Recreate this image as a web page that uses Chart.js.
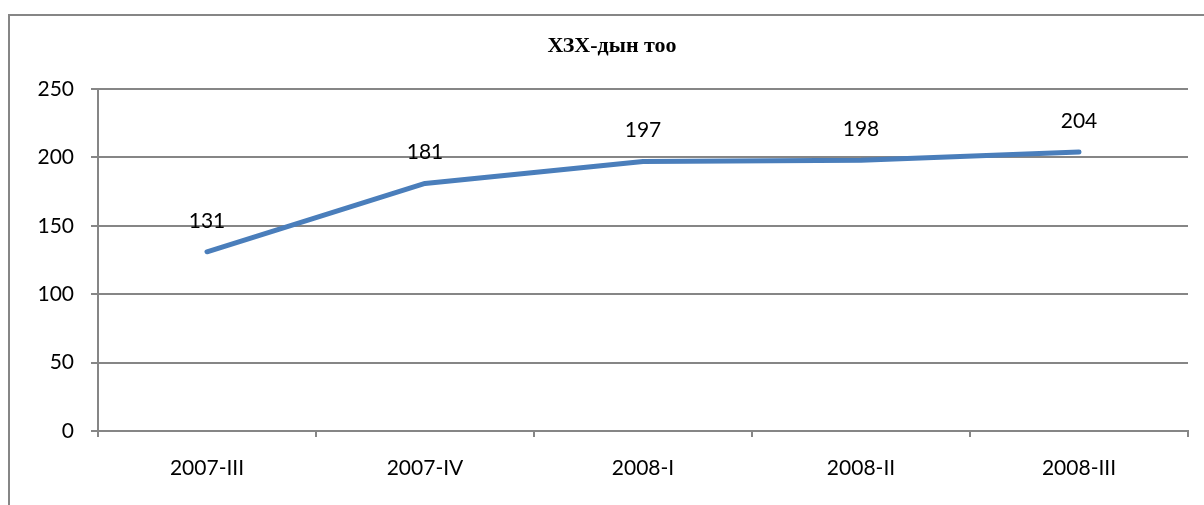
<!DOCTYPE html>
<html lang="mn">
<head>
    <meta charset="UTF-8">
    <title>ХЗХ-дын тоо</title>
    <script src="https://cdn.jsdelivr.net/npm/chart.js"></script>
    <style>
        body {
            margin: 0;
            padding: 0;
            background: #fff;
        }
        .chart-wrap {
            position: relative;
            width: 1204px;
            height: 505px;
        }
    </style>
</head>
<body>
    <div class="chart-wrap">
        <canvas id="hzhChart"></canvas>
    </div>
    <script>
        // Data
        const quarters = ['2007-III', '2007-IV', '2008-I', '2008-II', '2008-III'];
        const counts = [131, 181, 197, 198, 204];
        const chartTitle = 'ХЗХ-дын тоо';

        const gridGray = '#868686';
        const labelFont = { family: 'Lato, "Open Sans", sans-serif', size: 21 };

        // Outer frame of the chart box (cut off on the right and bottom) plus the title
        const framePlugin = {
            id: 'frame',
            beforeDraw(chart) {
                const ctx = chart.ctx;
                ctx.save();
                ctx.strokeStyle = gridGray;
                ctx.lineWidth = 2;
                ctx.beginPath();
                ctx.moveTo(9, chart.height + 2);
                ctx.lineTo(9, 15);
                ctx.lineTo(chart.width + 2, 15);
                ctx.stroke();

                ctx.fillStyle = '#000';
                ctx.font = 'bold 22px "Liberation Serif", "Times New Roman", serif';
                ctx.textAlign = 'center';
                ctx.textBaseline = 'middle';
                ctx.fillText(chartTitle, 612, 46);
                ctx.restore();
            }
        };

        // Value labels above each point
        const valueLabels = {
            id: 'valueLabels',
            afterDatasetsDraw(chart) {
                const ctx = chart.ctx;
                const meta = chart.getDatasetMeta(0);
                ctx.save();
                ctx.fillStyle = '#000';
                ctx.font = labelFont.size + 'px ' + labelFont.family;
                ctx.textAlign = 'center';
                ctx.textBaseline = 'middle';
                meta.data.forEach((pt, i) => {
                    ctx.fillText(String(counts[i]), pt.x, pt.y - 31);
                });
                ctx.restore();
            }
        };

        new Chart(document.getElementById('hzhChart'), {
            type: 'line',
            data: {
                labels: quarters,
                datasets: [{
                    label: chartTitle,
                    data: counts,
                    borderColor: '#4a7ebb',
                    borderWidth: 5,
                    borderCapStyle: 'round',
                    borderJoinStyle: 'round',
                    tension: 0,
                    fill: false,
                    pointRadius: 0,
                    pointHoverRadius: 0
                }]
            },
            options: {
                responsive: true,
                maintainAspectRatio: false,
                animation: false,
                layout: { padding: { left: 0, right: 16, top: 89, bottom: 0 } },
                plugins: {
                    legend: { display: false },
                    tooltip: { enabled: false },
                    title: { display: false }
                },
                scales: {
                    x: {
                        offset: true,
                        grid: {
                            offset: true,
                            drawOnChartArea: false,
                            drawTicks: true,
                            tickLength: 6,
                            color: gridGray,
                            lineWidth: 2
                        },
                        border: { display: true, color: gridGray, width: 2 },
                        ticks: {
                            color: '#000',
                            font: labelFont,
                            padding: 19,
                            maxRotation: 0,
                            autoSkip: false
                        },
                        afterFit(scale) { scale.height = 74; }
                    },
                    y: {
                        min: 0,
                        max: 250,
                        grid: {
                            color: gridGray,
                            lineWidth: 2,
                            drawTicks: true,
                            tickLength: 7
                        },
                        border: { display: true, color: gridGray, width: 2 },
                        ticks: {
                            stepSize: 50,
                            color: '#000',
                            font: labelFont,
                            padding: 17
                        },
                        afterFit(scale) { scale.width = 98; }
                    }
                }
            },
            plugins: [framePlugin, valueLabels]
        });
    </script>
</body>
</html>
